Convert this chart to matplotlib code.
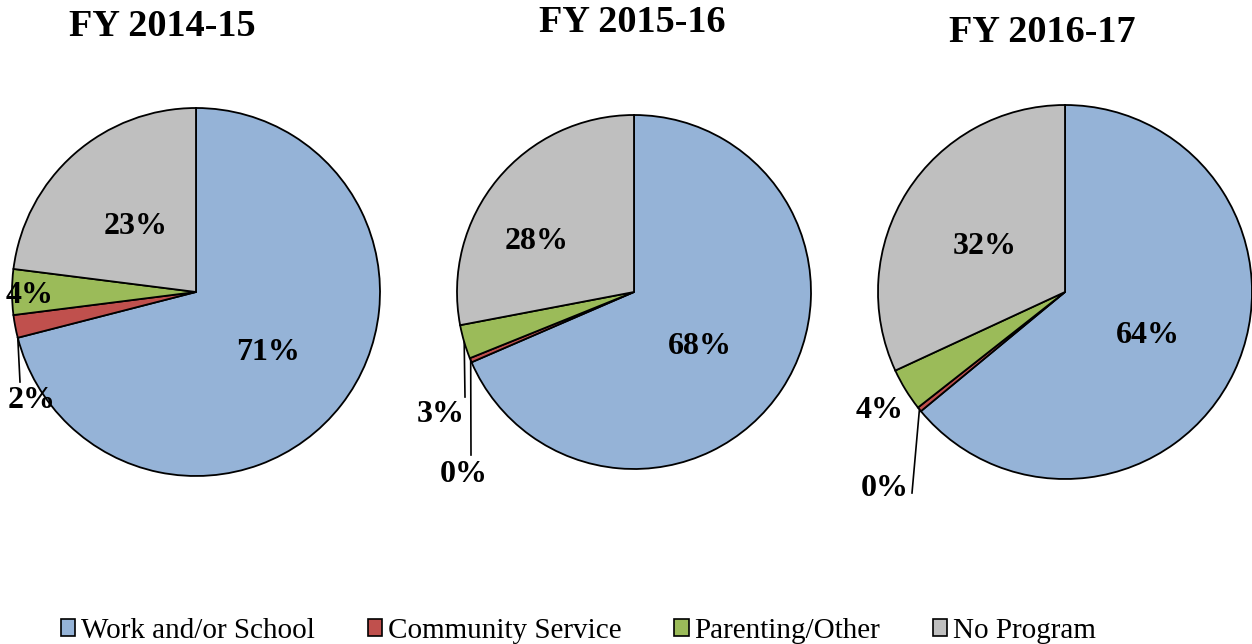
import numpy as np
import matplotlib
matplotlib.use("Agg")
import matplotlib.pyplot as plt
from matplotlib.patches import Patch

plt.rcParams['font.family'] = ['Liberation Serif', 'DejaVu Serif']

categories = ["Work and/or School", "Community Service", "Parenting/Other", "No Program"]
titles = ["FY 2014-15", "FY 2015-16", "FY 2016-17"]
vals_1415 = [71.0, 2.0, 4.0, 23.0]
vals_1516 = [68.5, 0.4, 3.1, 28.0]
vals_1617 = [64.0, 0.4, 3.7, 31.9]
labels_1415 = ["71%", "2%", "4%", "23%"]
labels_1516 = ["68%", "0%", "3%", "28%"]
labels_1617 = ["64%", "0%", "4%", "32%"]
colors = ["#95B3D7", "#C0504D", "#9BBB59", "#BFBFBF"]

W, H = 1252, 644
fig = plt.figure(figsize=(W / 100, H / 100), dpi=100)
ax = fig.add_axes([0, 0, 1, 1])

def Y(y):
    return H - y

# layout: center, radius, title pos, label positions, leader (anchor fraction within slice, endpoint)
layout = [
    dict(c=(196, 292), r=184, t=(162, 26),
         lab=[(268, 352), (32, 400), (30, 295), (136, 226)],
         lead={1: (0.0, (20, 382))}),
    dict(c=(634, 292), r=177, t=(632, 22),
         lab=[(700, 346), (464, 474), (441, 415), (537, 241)],
         lead={1: (0.5, (471, 455)), 2: (0.5, (465, 397))}),
    dict(c=(1065, 292), r=187, t=(1042, 32),
         lab=[(1148, 335), (885, 489), (880, 410), (985, 246)],
         lead={1: (0.5, (912, 493))}),
]

series = [vals_1415, vals_1516, vals_1617]
labels = [labels_1415, labels_1516, labels_1617]

for vals, labs, title, L in zip(series, labels, titles, layout):
    cx, cy = L['c']
    r = L['r']
    ax.pie(vals, colors=colors, startangle=90, counterclock=False,
           center=(cx, Y(cy)), radius=r,
           wedgeprops=dict(edgecolor='black', linewidth=1.3))
    tot = sum(vals)
    cum = np.cumsum([0] + list(vals)) / tot
    for i, (lab, pos) in enumerate(zip(labs, L['lab'])):
        ax.text(pos[0], Y(pos[1]), lab, ha='center', va='center',
                fontsize=23, fontweight='bold', color='black')
        if i in L['lead']:
            a, (ex, ey) = L['lead'][i]
            frac = cum[i] + a * (cum[i + 1] - cum[i])
            ang = np.deg2rad(90 - 360 * frac)
            sx = cx + r * np.cos(ang)
            sy = Y(cy) + r * np.sin(ang)
            ax.plot([sx, ex], [sy, Y(ey)], color='black', lw=1.2)
    ax.text(L['t'][0], Y(L['t'][1]), title, ha='center', va='center',
            fontsize=27.5, fontweight='bold')

ax.set_xlim(0, W)
ax.set_ylim(0, H)
ax.set_aspect('equal')
ax.axis('off')

handles = [Patch(facecolor=c, edgecolor='black', linewidth=1.2) for c in colors]
fig.legend(handles, categories, loc='center', bbox_to_anchor=(0.462, 1 - 631 / H),
           ncol=4, frameon=False, fontsize=21, handlelength=0.5, handleheight=0.5,
           handletextpad=0.2, columnspacing=1.8)

fig.savefig("out.png", dpi=100)
